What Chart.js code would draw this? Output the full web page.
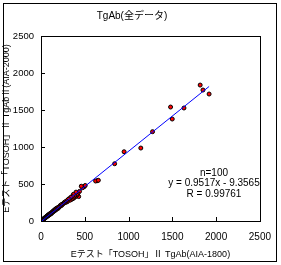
<!DOCTYPE html>
<html>
<head>
<meta charset="utf-8">
<script src="https://cdn.jsdelivr.net/npm/chart.js@4"></script>
<style>
  html, body { margin: 0; padding: 0; background: #fff; }
  #wrap { width: 281px; height: 265px; }
</style>
</head>
<body>
<div id="wrap"><canvas id="chart" width="281" height="265"></canvas></div>
<script>
// AIA-1800 (x) vs AIA-2000 (y)
const aia1800 = [1920, 1850, 1818, 1633, 1499, 1480, 1274, 1140, 949, 841, 643, 624, 655, 493,
    475, 505, 460, 440, 430, 420, 410, 400, 395, 385, 375, 370, 360, 355, 345, 340, 330, 320, 310, 300,
    290, 280, 270, 260, 250, 240, 235, 225, 215, 210, 200, 195, 190, 180, 175, 170, 165, 160, 155, 150,
    145, 140, 135, 130, 125, 120, 118, 112, 108, 104, 100, 97, 94, 90, 87, 84, 80, 77, 74, 70, 67, 64,
    60, 57, 54, 50, 48, 45, 42, 40, 37, 34, 32, 30, 27, 25, 22, 20, 18, 15, 13, 11, 9, 7, 5, 3];
const aia2000 = [1716, 1770, 1837, 1527, 1378, 1540, 1207, 986, 936, 774, 545, 540, 550, 464,
    450, 480, 470, 400, 330, 370, 350, 390, 330, 340, 310, 360, 300, 330, 290, 320, 280, 300, 290, 260,
    270, 250, 255, 240, 230, 225, 210, 215, 200, 190, 185, 170, 180, 165, 170, 150, 160, 145, 150, 135,
    140, 125, 130, 120, 115, 110, 100, 105, 95, 100, 90, 85, 92, 80, 84, 75, 78, 70, 66, 68, 60, 62,
    55, 52, 50, 46, 42, 44, 38, 35, 34, 30, 28, 27, 24, 22, 20, 17, 16, 13, 11, 10, 8, 6, 4, 3];
const axisTicks = [0, 500, 1000, 1500, 2000, 2500];
const slope = 0.9517;
const intercept = -9.3565;
const statLines = ['n=100', 'y = 0.9517x - 9.3565', 'R = 0.99761'];

const points = aia1800.map((x, i) => ({ x: x, y: aia2000[i] }));
const xMin = Math.min(...aia1800);
const xMax = Math.max(...aia1800);
const trend = [
    { x: xMin, y: slope * xMin + intercept },
    { x: xMax, y: slope * xMax + intercept }
];

const FONT = "'Liberation Sans', 'Noto Sans CJK JP', sans-serif";

const frame = {
    id: 'frame',
    beforeDraw(chart) {
        const ctx = chart.ctx;
        ctx.save();
        ctx.fillStyle = '#fff';
        ctx.fillRect(0, 0, chart.width, chart.height);
        ctx.restore();
    },
    afterDraw(chart) {
        const ctx = chart.ctx;
        const a = chart.chartArea;
        const xs = chart.scales.x, ys = chart.scales.y;
        ctx.save();
        ctx.strokeStyle = '#000';
        ctx.lineWidth = 1;
        ctx.strokeRect(3.5, 3.5, 273, 258);
        ctx.strokeRect(Math.round(a.left) + 0.5, Math.round(a.top) + 0.5,
            Math.round(a.right - a.left), Math.round(a.bottom - a.top));
        ctx.beginPath();
        axisTicks.forEach(v => {
            const px = Math.round(xs.getPixelForValue(v)) + 0.5;
            ctx.moveTo(px, a.bottom);
            ctx.lineTo(px, a.bottom - 4);
            const py = Math.round(ys.getPixelForValue(v)) + 0.5;
            ctx.moveTo(a.left, py);
            ctx.lineTo(a.left + 4, py);
        });
        ctx.stroke();
        ctx.fillStyle = '#000';
        ctx.font = '10px ' + FONT;
        ctx.textAlign = 'center';
        ctx.textBaseline = 'middle';
        statLines.forEach((t, i) => ctx.fillText(t, 214, 173 + i * 10.5));
        ctx.restore();
    }
};

new Chart(document.getElementById('chart'), {
    type: 'scatter',
    data: {
        datasets: [{
            type: 'line',
            data: trend,
            borderColor: '#0000ff',
            borderWidth: 1,
            pointRadius: 0,
            fill: false
        }, {
            data: points,
            backgroundColor: '#ff0000',
            borderColor: '#000000',
            borderWidth: 1,
            pointRadius: 2
        }]
    },
    options: {
        responsive: false,
        animation: false,
        layout: { padding: { top: 0, left: 0, right: 17, bottom: 0 } },
        plugins: {
            legend: { display: false },
            tooltip: { enabled: false },
            title: {
                display: true,
                text: 'TgAb(全データ)',
                color: '#000',
                font: { family: FONT, size: 10, weight: 'normal' },
                padding: { top: 10, bottom: 14 }
            }
        },
        scales: {
            x: {
                type: 'linear',
                min: 0,
                max: 2500,
                afterFit: s => { s.height = 44; },
                afterBuildTicks: s => { s.ticks = axisTicks.map(v => ({ value: v })); },
                grid: { display: false, drawTicks: false },
                border: { display: false },
                ticks: {
                    color: '#000', padding: 10, maxRotation: 0,
                    font: { family: FONT, size: 10 },
                    callback: v => String(v)
                },
                title: {
                    display: true,
                    text: 'Eテスト「TOSOH」Ⅱ TgAb(AIA-1800)',
                    color: '#000',
                    font: { family: FONT, size: 9 },
                    padding: { top: 0, bottom: 5 }
                }
            },
            y: {
                type: 'linear',
                min: 0,
                max: 2500,
                afterFit: s => { s.width = 41; },
                afterBuildTicks: s => { s.ticks = axisTicks.map(v => ({ value: v })); },
                grid: { display: false, drawTicks: false },
                border: { display: false },
                ticks: {
                    color: '#000', padding: 7,
                    font: { family: FONT, size: 9.5 },
                    callback: v => String(v)
                },
                title: {
                    display: true,
                    text: 'Eテスト「TOSOH」Ⅱ TgAbⅡ(AIA-2000)',
                    color: '#000',
                    font: { family: FONT, size: 9 },
                    padding: { top: 1, bottom: 0 }
                }
            }
        }
    },
    plugins: [frame]
});
</script>
</body>
</html>
